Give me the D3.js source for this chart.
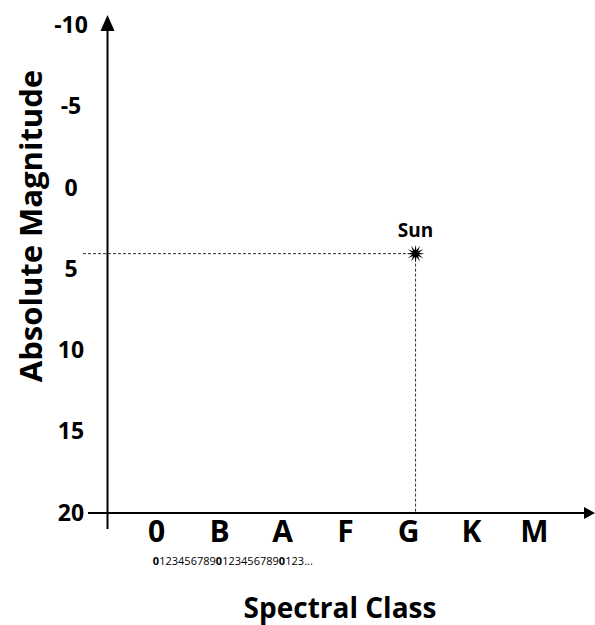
<!DOCTYPE html>
<html><head><meta charset="utf-8">
<script src="https://cdn.jsdelivr.net/npm/d3@7"></script>
<style>body{margin:0;background:#fff}svg{display:block}text{font-family:"Open Sans",sans-serif;font-weight:700;fill:#000}</style>
</head><body>
<script>
const spectralClasses = ["0","B","A","F","G","K","M"];
const magnitudeTicks = [-10,-5,0,5,10,15,20];
const subclassDigits = ["0","1","2","3","4","5","6","7","8","9","0","1","2","3","4","5","6","7","8","9","0","1","2","3"];
const sunName = ["Sun"];
const sunClassPosition = [4.12]; // G1.2 (class index + subclass/10)
const sunMagnitude = [4.1];

const W=595,H=625;
const svg=d3.select("body").append("svg").attr("width",W).attr("height",H);
const x=d3.scaleLinear().domain([0,7]).range([156,156+63*7]);
const y=d3.scaleLinear().domain([-10,20]).range([24.5,512]);
const axX=107.5, axY=513;

// dashed guide lines
const sx=x(sunClassPosition[0]), sy=y(sunMagnitude[0]);
svg.append("line").attr("x1",83).attr("x2",sx).attr("y1",sy).attr("y2",sy)
  .attr("stroke","#333").attr("stroke-width",1).attr("stroke-dasharray","3,2");
svg.append("line").attr("x1",sx).attr("x2",sx).attr("y1",sy).attr("y2",axY)
  .attr("stroke","#333").attr("stroke-width",1).attr("stroke-dasharray","3,2");

// axes lines
svg.append("line").attr("x1",axX).attr("x2",axX).attr("y1",529).attr("y2",28).attr("stroke","#000").attr("stroke-width",2);
svg.append("path").attr("d",`M${axX},15L${axX-7},31L${axX+7},31Z`).attr("fill","#000");
svg.append("line").attr("x1",88).attr("x2",587).attr("y1",axY).attr("y2",axY).attr("stroke","#000").attr("stroke-width",2);
svg.append("path").attr("d",`M595,${axY}L584,${axY-6}L584,${axY+6}Z`).attr("fill","#000");

// y axis labels
const ya=svg.append("g").attr("transform","translate(71,0)")
  .call(d3.axisLeft(y).tickValues(magnitudeTicks).tickSize(0).tickPadding(0).tickFormat(d=>String(d)));
ya.select(".domain").remove();
ya.selectAll("text").attr("text-anchor","middle").attr("x",0).attr("dy","0.35em")
  .style("font-family","'Open Sans',sans-serif").style("font-weight","700").style("font-size","23px").attr("fill","#000");

// x axis category labels
const xa=svg.append("g").attr("transform",`translate(0,${axY})`)
  .call(d3.axisBottom(x).tickValues(d3.range(spectralClasses.length)).tickSize(0).tickPadding(0).tickFormat(i=>spectralClasses[i]));
xa.select(".domain").remove();
xa.selectAll("text").attr("y",29).attr("dy",0)
  .style("font-family","'Open Sans',sans-serif").style("font-weight","700").style("font-size","30px").attr("fill","#000");

// subclass digits
svg.append("g").selectAll("text").data(subclassDigits).join("text")
  .attr("x",(d,i)=>x(i/10)).attr("y",565).attr("text-anchor","middle")
  .style("font-size","11px").style("font-weight",d=>d==="0"?"700":"400").text(d=>d);
svg.append("text").attr("x",x(subclassDigits.length/10)-3).attr("y",565).style("font-size","11px").style("font-weight","400").text("...");

// sun star
const pts=[];for(let k=0;k<24;k++){pts.push([k*Math.PI/12,k%2?3.5:9]);}
svg.append("path").attr("d",d3.lineRadial().curve(d3.curveLinearClosed)(pts))
  .attr("transform",`translate(${sx},${sy})`).attr("fill","#000");
svg.append("text").attr("x",sx).attr("y",sy-17).attr("text-anchor","middle").style("font-size","19px").text(sunName[0]);

// titles
svg.append("text").attr("transform",`translate(42,226) rotate(-90)`).attr("text-anchor","middle").style("font-size","31px").text("Absolute Magnitude");
svg.append("text").attr("x",340).attr("y",618).attr("text-anchor","middle").style("font-size","28px").text("Spectral Class");
</script>
</body></html>
